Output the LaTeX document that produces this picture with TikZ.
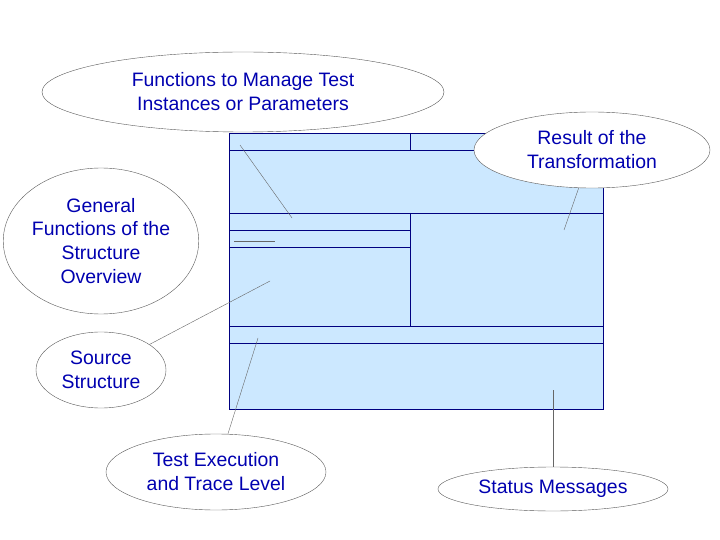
\documentclass[tikz,border=0pt]{standalone}
\usepackage{fontspec}
\setmainfont{Liberation Sans}
\usetikzlibrary{shapes.geometric}
\definecolor{paneblue}{HTML}{CCE8FF}
\definecolor{framenavy}{HTML}{000080}
\definecolor{textblue}{HTML}{0000B0}
\tikzset{
  callout/.style={ellipse, draw=gray!70!black, fill=white, align=center,
    text=textblue, font=\fontsize{19.5}{24}\selectfont, inner sep=0pt},
  leader/.style={draw=gray!80!black},
  frame/.style={draw=framenavy}
}
\begin{document}
\begin{tikzpicture}[x=1bp, y=-1bp]
        \useasboundingbox (0,0) rectangle (720,540);
        % window panes
        \fill [paneblue] (229,133) rectangle (603,409);
        \draw [frame] (229,133) rectangle (603,409);
        \foreach \y in {150,213,326,343}
          \draw [frame] (229,\y) -- (603,\y);
        \foreach \y in {230,247}
          \draw [frame] (229,\y) -- (410,\y);
        \draw [frame] (410,133) -- (410,150);
        \draw [frame] (410,213) -- (410,326);
        % anchor points of the leaders
        \coordinate (manage-end) at (292,218);
        \coordinate (result-end) at (564,230);
        \coordinate (general-start) at (234,241);
        \coordinate (general-end) at (275,241);
        \coordinate (source-end) at (270,281);
        \coordinate (trace-end) at (258,338);
        \coordinate (status-end) at (553,390);
        \coordinate (manage-start) at (240,145);
        % leaders
        \draw [leader] (manage-start) -- (manage-end);
        \draw [leader] (general-start) -- (general-end);
        % callouts
        \node [callout, minimum width=402bp, minimum height=80bp] (manage) at (243,92)
          {Functions to Manage Test\\Instances or Parameters};
        \node [callout, minimum width=236bp, minimum height=76bp] (result) at (592,150)
          {Result of the\\Transformation};
        \node [callout, minimum width=186bp, minimum height=146bp] (general) at (101,241)
          {General\\Functions of the\\Structure\\Overview};
        \node [callout, minimum width=130bp, minimum height=76bp] (source) at (101,370)
          {Source\\Structure};
        \node [callout, minimum width=220bp, minimum height=76bp] (trace) at (216,472)
          {Test Execution\\and Trace Level};
        \node [callout, minimum width=230bp, minimum height=44bp] (status) at (553,489)
          {Status Messages};
        \draw [leader] (result) -- (result-end);
        \draw [leader] (source) -- (source-end);
        \draw [leader] (trace) -- (trace-end);
        \draw [leader] (status) -- (status-end);
    \end{tikzpicture}
\end{document}
